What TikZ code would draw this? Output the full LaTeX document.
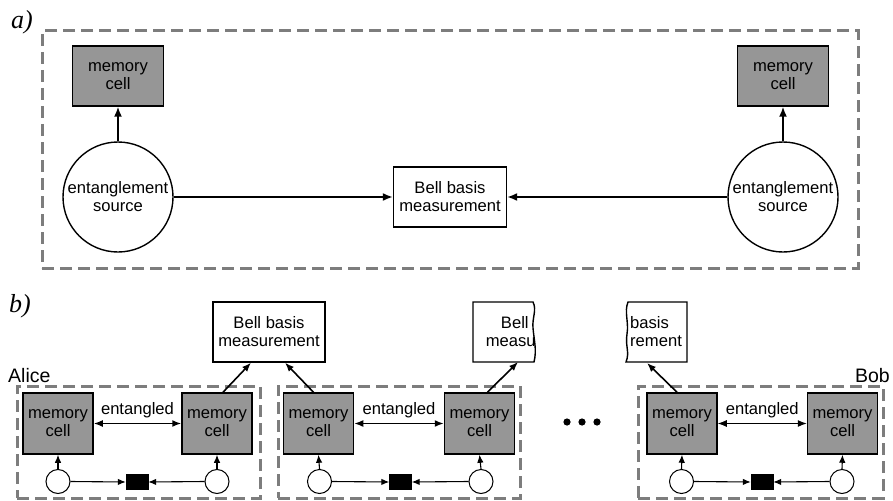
\documentclass[tikz,border=0pt]{standalone}
\usepackage{fontspec}
\setmainfont{Liberation Sans}
\newfontfamily\labelserif{Liberation Serif}
\usetikzlibrary{arrows.meta}
\definecolor{cellgray}{RGB}{150,150,150}
\definecolor{dashgray}{RGB}{125,125,125}
\begin{document}
\begin{tikzpicture}[x=1pt,y=-1pt,
  txt/.style={font=\fontsize{16.6}{18}\selectfont, align=center, inner sep=0pt},
  panellabel/.style={font=\labelserif\itshape\fontsize{26}{26}\selectfont, inner sep=0pt},
  namelabel/.style={font=\fontsize{19.5}{20}\selectfont, inner sep=0pt},
  frame/.style={draw=dashgray, line width=3pt, dash pattern=on 12pt off 6pt, inner sep=0pt},
  bigcell/.style={txt, draw, line width=1.5pt, fill=cellgray, minimum width=91pt, minimum height=60pt},
  smallcell/.style={txt, draw, line width=1.5pt, fill=cellgray, minimum width=70pt, minimum height=61pt},
  bigsrc/.style={txt, draw, line width=1.4pt, circle, minimum size=110pt},
  smallsrc/.style={draw, line width=1pt, circle, minimum size=24pt, inner sep=0pt},
  bellbox/.style={txt, draw, line width=1.4pt, fill=white, minimum width=112pt, minimum height=60pt},
  bsm/.style={draw, fill=black, minimum width=22pt, minimum height=15pt, inner sep=0pt},
  arra/.style={line width=1.6pt, -{Latex[length=10pt,width=8pt]}},
  arrb/.style={line width=1.6pt, -{Latex[length=9pt,width=7pt]}},
  arrboth/.style={line width=1.6pt, {Latex[length=9pt,width=7pt]}-{Latex[length=9pt,width=7pt]}},
  arrboththin/.style={line width=1.1pt, {Latex[length=9pt,width=7pt]}-{Latex[length=9pt,width=7pt]}},
  arrc/.style={line width=1.1pt, -{Latex[length=8pt,width=6.5pt]}},
]
\useasboundingbox (0,0) rectangle (893,500);

% ---------------- panel a ----------------
\node[panellabel] (la) at (22,22) {a)};
\node[frame, minimum width=816pt, minimum height=237pt] (fa) at (450,149.5) {};
\node[bigcell] (amL) at (118,76) {memory\\cell};
\node[bigcell] (amR) at (783,76) {memory\\cell};
\node[bigsrc] (asL) at (118,197) {entanglement\\source};
\node[bigsrc] (asR) at (783,197) {entanglement\\source};
\node[bellbox, minimum width=113pt] (abell) at (450,197) {Bell basis\\measurement};
\draw[arra] (asL.north) -- (amL.south);
\draw[arra] (asR.north) -- (amR.south);
\draw[arra] (asL.east) -- (abell.west);
\draw[arra] (asR.west) -- (abell.east);

% ---------------- panel b ----------------
\node[panellabel] (lb) at (20,306) {b)};
\node[namelabel, anchor=base west] (alice) at (8,382) {Alice};
\node[namelabel, anchor=base east] (bob) at (890,382) {Bob};

\node[bellbox] (bell1) at (269,332) {Bell basis\\measurement};

% partial box 2 (right edge torn)
\begin{scope}
  \clip (473,302) -- (533,302) .. controls (537,310) and (532,318) .. (533,328)
        .. controls (534,340) and (537,350) .. (534,362) -- (473,362) -- cycle;
  \node[txt] (bell2) at (536.5,332) {Bell basis\\measurement};
\end{scope}
\draw[line width=1.4pt] (473,302) -- (533,302) .. controls (537,310) and (532,318) .. (533,328)
      .. controls (534,340) and (537,350) .. (534,362) -- (473,362) -- cycle;
\coordinate (bell2in) at (518,362);

% partial box 3 (left edge torn)
\draw[line width=1.4pt] (687,302) -- (628,302) .. controls (624,312) and (629,322) .. (627,334)
      .. controls (625,346) and (630,352) .. (626,362) -- (687,362) -- cycle;
\node[txt, align=left, anchor=west] (bell3) at (630,332) {basis\\rement};
\coordinate (bell3in) at (647,363);

% frames
\node[frame, minimum width=243pt, minimum height=112pt] (fA) at (138.5,442) {};
\node[frame, minimum width=242pt, minimum height=112pt] (fM) at (399,442) {};
\node[frame, minimum width=245pt, minimum height=112pt] (fB) at (760.5,442) {};

% Alice
\node[smallcell] (aC1) at (58,423.5) {memory\\cell};
\node[smallcell] (aC2) at (217,423.5) {memory\\cell};
\node[smallsrc] (aS1) at (58,481.5) {};
\node[smallsrc] (aS2) at (217,481.5) {};
\node[bsm] (aM) at (137,482) {};
% middle
\node[smallcell] (mC1) at (318.5,423.5) {memory\\cell};
\node[smallcell] (mC2) at (479.5,423.5) {memory\\cell};
\node[smallsrc] (mS1) at (319.5,481.5) {};
\node[smallsrc] (mS2) at (481,481.5) {};
\node[bsm] (mM) at (400.5,482) {};
% Bob
\node[smallcell] (bC1) at (682,423.5) {memory\\cell};
\node[smallcell] (bC2) at (842.5,423.5) {memory\\cell};
\node[smallsrc] (bS1) at (681.5,481.5) {};
\node[smallsrc] (bS2) at (842,481.5) {};
\node[bsm] (bM) at (762,482) {};

% entangled links
\draw[arrboth] (aC1.east) -- node[txt, above=5pt] (aE) {entangled} (aC2.west);
\draw[arrboth] (mC1.east) -- node[txt, above=5pt] (mE) {entangled} (mC2.west);
\draw[arrboththin] (bC1.east) -- node[txt, above=5pt] (bE) {entangled} (bC2.west);

% sources to cells and to BSM
\foreach \s/\c in {aS1/aC1, aS2/aC2, mS1/mC1, mS2/mC2, bS1/bC1, bS2/bC2}
  \draw[arrc] (\s.north) -- (\c.south);
\foreach \s/\m in {aS1/aM, mS1/mM, bS1/bM}
  \draw[arrc] (\s.east) -- (\m.west);
\foreach \s/\m in {aS2/aM, mS2/mM, bS2/bM}
  \draw[arrc] (\s.west) -- (\m.east);

% cells to Bell measurements
\draw[arrb] ([xshift=6pt]aC2.north) -- ([xshift=-18pt]bell1.south);
\draw[arrb] ([xshift=-5pt]mC1.north) -- ([xshift=16pt]bell1.south);
\draw[arrb] ([xshift=8pt]mC2.north) -- (bell2in);
\draw[arrb] ([xshift=-5pt]bC1.north) -- (bell3in);

% dots
\fill (567,422) circle (3.6pt) (582,422) circle (3.6pt) (597,422) circle (3.6pt);
\end{tikzpicture}
\end{document}
